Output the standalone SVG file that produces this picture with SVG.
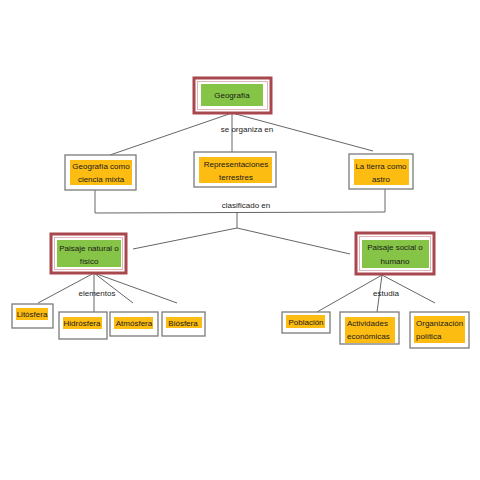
<svg xmlns="http://www.w3.org/2000/svg" width="480" height="480" viewBox="0 0 480 480">
<style>
.bg{fill:#ffffff}
.rOut{fill:#ffffff;stroke:#a8474e;stroke-width:3}
.rIn{fill:none;stroke:#d9a3a6;stroke-width:0.8}
.green{fill:#85c446}
.yOut{fill:#ffffff;stroke:#7a7a7a;stroke-width:1.3}
.yellow{fill:#fcbc12}
.t{font-family:"Liberation Sans",Arial,sans-serif;font-size:8px;fill:#1a1a1a;text-anchor:middle}
.l{text-anchor:start}
.c line,.c polyline{stroke:#666;stroke-width:1;fill:none}
</style>
<rect class="bg" x="0" y="0" width="480" height="480"/>
<g id="connectors" class="c">
<line x1="232" y1="113" x2="110" y2="155"/>
<line x1="232" y1="113" x2="232" y2="152"/>
<line x1="232" y1="113" x2="373" y2="151"/>
<polyline points="95,190 95,213 385,212 385,189"/>
<line x1="237" y1="212.5" x2="237" y2="228"/>
<line x1="237" y1="228" x2="133" y2="249"/>
<line x1="237" y1="228" x2="350" y2="254"/>
<line x1="94" y1="273" x2="38" y2="303"/>
<line x1="94" y1="273" x2="94" y2="312"/>
<line x1="94" y1="273" x2="133" y2="303"/>
<line x1="94" y1="273" x2="177" y2="303"/>
<line x1="382" y1="275" x2="317" y2="312"/>
<line x1="382" y1="275" x2="377" y2="312"/>
<line x1="382" y1="275" x2="435" y2="303"/>
</g>
<g id="geografia">
<rect class="rOut" x="194" y="78" width="77" height="35"/>
<rect class="rIn" x="197.5" y="81.5" width="70" height="28"/>
<rect class="green" x="201" y="84" width="62" height="22"/>
<text class="t" x="232" y="98">Geografía</text>
</g>
<text class="t" x="247" y="132">se organiza en</text>
<g id="ciencia-mixta">
<rect class="yOut" x="65" y="155" width="71" height="35"/>
<rect class="yellow" x="70" y="160" width="62" height="25"/>
<text class="t" x="101" y="169">Geografía como</text>
<text class="t" x="101" y="182">ciencia mixta</text>
</g>
<g id="representaciones">
<rect class="yOut" x="194" y="152" width="82" height="35"/>
<rect class="yellow" x="199" y="157" width="73" height="26"/>
<text class="t" x="236" y="167">Representaciones</text>
<text class="t" x="236" y="180">terrestres</text>
</g>
<g id="tierra-astro">
<rect class="yOut" x="349" y="154" width="64" height="35"/>
<rect class="yellow" x="354" y="159" width="55" height="26"/>
<text class="t" x="381" y="169">La tierra como</text>
<text class="t" x="381" y="182">astro</text>
</g>
<text class="t" x="246" y="208">clasificado en</text>
<g id="paisaje-natural">
<rect class="rOut" x="51" y="234" width="75" height="39"/>
<rect class="rIn" x="54.5" y="237.5" width="68" height="32"/>
<rect class="green" x="57" y="240" width="64" height="27"/>
<text class="t" x="89" y="251">Paisaje natural o</text>
<text class="t" x="89" y="264">físico</text>
</g>
<g id="paisaje-social">
<rect class="rOut" x="356" y="233" width="78" height="41"/>
<rect class="rIn" x="359.5" y="236.5" width="71" height="34"/>
<rect class="green" x="362" y="240" width="67" height="28"/>
<text class="t" x="395" y="250">Paisaje social o</text>
<text class="t" x="395" y="264">humano</text>
</g>
<text class="t" x="97" y="296">elementos</text>
<text class="t" x="386" y="296">estudia</text>
<g id="litosfera">
<rect class="yOut" x="12" y="304" width="41" height="24"/>
<rect class="yellow" x="16" y="308" width="32" height="12"/>
<text class="t" x="32" y="317">Litósfera</text>
</g>
<g id="hidrosfera">
<rect class="yOut" x="59" y="312" width="48" height="27"/>
<rect class="yellow" x="63" y="317" width="39" height="12"/>
<text class="t" x="82" y="326">Hidrósfera</text>
</g>
<g id="atmosfera">
<rect class="yOut" x="110" y="312" width="48" height="24"/>
<rect class="yellow" x="114" y="317" width="39" height="12"/>
<text class="t" x="134" y="326">Atmósfera</text>
</g>
<g id="biosfera">
<rect class="yOut" x="162" y="312" width="43" height="24"/>
<rect class="yellow" x="166" y="317" width="36" height="11"/>
<text class="t" x="183" y="326">Biósfera</text>
</g>
<g id="poblacion">
<rect class="yOut" x="282" y="312" width="48" height="21"/>
<rect class="yellow" x="286" y="315" width="39" height="13"/>
<text class="t" x="306" y="325">Población</text>
</g>
<g id="actividades">
<rect class="yOut" x="340" y="312" width="59" height="32"/>
<rect class="yellow" x="345" y="317" width="50" height="26"/>
<text class="t l" x="347" y="326">Actividades</text>
<text class="t l" x="347" y="339">económicas</text>
</g>
<g id="organizacion">
<rect class="yOut" x="410" y="312" width="59" height="36"/>
<rect class="yellow" x="414" y="316" width="51" height="27"/>
<text class="t l" x="416" y="326">Organización</text>
<text class="t l" x="416" y="339">política</text>
</g>
</svg>
